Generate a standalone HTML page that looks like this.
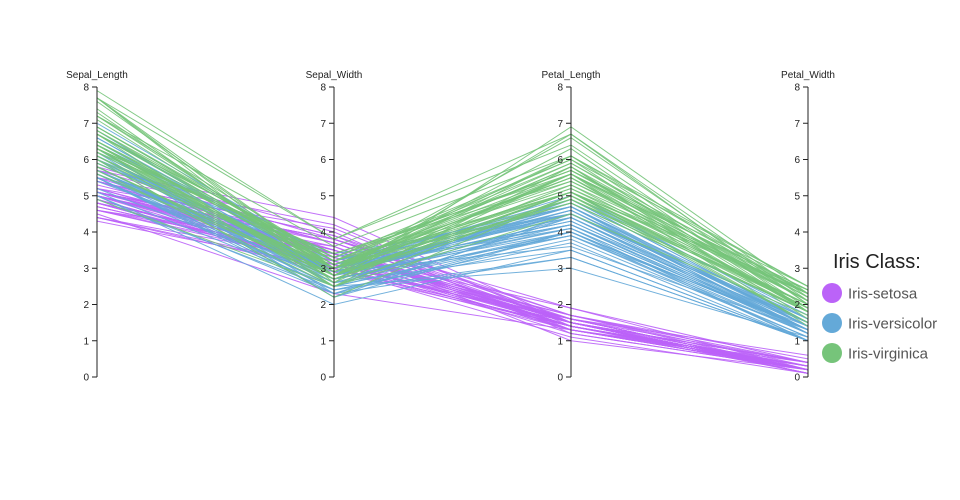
<!DOCTYPE html>
<html><head><meta charset="utf-8">
<style>
html,body{margin:0;padding:0;background:#fff;}
svg{display:block;font-family:"Liberation Sans","DejaVu Sans",sans-serif;}
</style></head>
<body>
<svg id="chart" width="960" height="500">
  <g id="lines"></g>
  <g id="axes"></g>
  <g id="legend">
    <text x="833" y="268" font-size="20" fill="#222">Iris Class:</text>
  </g>
</svg>
<script>
const dimensions = ["Sepal_Length","Sepal_Width","Petal_Length","Petal_Width"];
const classes = ["Iris-setosa","Iris-versicolor","Iris-virginica"];
const classColors = ["#bb63f8","#64a9d8","#76c47a"];
const tickValues = [0,1,2,3,4,5,6,7,8];
const setosa = [
[5.1,3.5,1.4,0.2],[4.9,3.0,1.4,0.2],[4.7,3.2,1.3,0.2],[4.6,3.1,1.5,0.2],[5.0,3.6,1.4,0.2],
[5.4,3.9,1.7,0.4],[4.6,3.4,1.4,0.3],[5.0,3.4,1.5,0.2],[4.4,2.9,1.4,0.2],[4.9,3.1,1.5,0.1],
[5.4,3.7,1.5,0.2],[4.8,3.4,1.6,0.2],[4.8,3.0,1.4,0.1],[4.3,3.0,1.1,0.1],[5.8,4.0,1.2,0.2],
[5.7,4.4,1.5,0.4],[5.4,3.9,1.3,0.4],[5.1,3.5,1.4,0.3],[5.7,3.8,1.7,0.3],[5.1,3.8,1.5,0.3],
[5.4,3.4,1.7,0.2],[5.1,3.7,1.5,0.4],[4.6,3.6,1.0,0.2],[5.1,3.3,1.7,0.5],[4.8,3.4,1.9,0.2],
[5.0,3.0,1.6,0.2],[5.0,3.4,1.6,0.4],[5.2,3.5,1.5,0.2],[5.2,3.4,1.4,0.2],[4.7,3.2,1.6,0.2],
[4.8,3.1,1.6,0.2],[5.4,3.4,1.5,0.4],[5.2,4.1,1.5,0.1],[5.5,4.2,1.4,0.2],[4.9,3.1,1.5,0.1],
[5.0,3.2,1.2,0.2],[5.5,3.5,1.3,0.2],[4.9,3.1,1.5,0.1],[4.4,3.0,1.3,0.2],[5.1,3.4,1.5,0.2],
[5.0,3.5,1.3,0.3],[4.5,2.3,1.3,0.3],[4.4,3.2,1.3,0.2],[5.0,3.5,1.6,0.6],[5.1,3.8,1.9,0.4],
[4.8,3.0,1.4,0.3],[5.1,3.8,1.6,0.2],[4.6,3.2,1.4,0.2],[5.3,3.7,1.5,0.2],[5.0,3.3,1.4,0.2]];
const versicolor = [
[7.0,3.2,4.7,1.4],[6.4,3.2,4.5,1.5],[6.9,3.1,4.9,1.5],[5.5,2.3,4.0,1.3],[6.5,2.8,4.6,1.5],
[5.7,2.8,4.5,1.3],[6.3,3.3,4.7,1.6],[4.9,2.4,3.3,1.0],[6.6,2.9,4.6,1.3],[5.2,2.7,3.9,1.4],
[5.0,2.0,3.5,1.0],[5.9,3.0,4.2,1.5],[6.0,2.2,4.0,1.0],[6.1,2.9,4.7,1.4],[5.6,2.9,3.6,1.3],
[6.7,3.1,4.4,1.4],[5.6,3.0,4.5,1.5],[5.8,2.7,4.1,1.0],[6.2,2.2,4.5,1.5],[5.6,2.5,3.9,1.1],
[5.9,3.2,4.8,1.8],[6.1,2.8,4.0,1.3],[6.3,2.5,4.9,1.5],[6.1,2.8,4.7,1.2],[6.4,2.9,4.3,1.3],
[6.6,3.0,4.4,1.4],[6.8,2.8,4.8,1.4],[6.7,3.0,5.0,1.7],[6.0,2.9,4.5,1.5],[5.7,2.6,3.5,1.0],
[5.5,2.4,3.8,1.1],[5.5,2.4,3.7,1.0],[5.8,2.7,3.9,1.2],[6.0,2.7,5.1,1.6],[5.4,3.0,4.5,1.5],
[6.0,3.4,4.5,1.6],[6.7,3.1,4.7,1.5],[6.3,2.3,4.4,1.3],[5.6,3.0,4.1,1.3],[5.5,2.5,4.0,1.3],
[5.5,2.6,4.4,1.2],[6.1,3.0,4.6,1.4],[5.8,2.6,4.0,1.2],[5.0,2.3,3.3,1.0],[5.6,2.7,4.2,1.3],
[5.7,3.0,4.2,1.2],[5.7,2.9,4.2,1.3],[6.2,2.9,4.3,1.3],[5.1,2.5,3.0,1.1],[5.7,2.8,4.1,1.3]];
const virginica = [
[6.3,3.3,6.0,2.5],[5.8,2.7,5.1,1.9],[7.1,3.0,5.9,2.1],[6.3,2.9,5.6,1.8],[6.5,3.0,5.8,2.2],
[7.6,3.0,6.6,2.1],[4.9,2.5,4.5,1.7],[7.3,2.9,6.3,1.8],[6.7,2.5,5.8,1.8],[7.2,3.6,6.1,2.5],
[6.5,3.2,5.1,2.0],[6.4,2.7,5.3,1.9],[6.8,3.0,5.5,2.1],[5.7,2.5,5.0,2.0],[5.8,2.8,5.1,2.4],
[6.4,3.2,5.3,2.3],[6.5,3.0,5.5,1.8],[7.7,3.8,6.7,2.2],[7.7,2.6,6.9,2.3],[6.0,2.2,5.0,1.5],
[6.9,3.2,5.7,2.3],[5.6,2.8,4.9,2.0],[7.7,2.8,6.7,2.0],[6.3,2.7,4.9,1.8],[6.7,3.3,5.7,2.1],
[7.2,3.2,6.0,1.8],[6.2,2.8,4.8,1.8],[6.1,3.0,4.9,1.8],[6.4,2.8,5.6,2.1],[7.2,3.0,5.8,1.6],
[7.4,2.8,6.1,1.9],[7.9,3.8,6.4,2.0],[6.4,2.8,5.6,2.2],[6.3,2.8,5.1,1.5],[6.1,2.6,5.6,1.4],
[7.7,3.0,6.1,2.3],[6.3,3.4,5.6,2.4],[6.4,3.1,5.5,1.8],[6.0,3.0,4.8,1.8],[6.9,3.1,5.4,2.1],
[6.7,3.1,5.6,2.4],[6.9,3.1,5.1,2.3],[5.8,2.7,5.1,1.9],[6.8,3.2,5.9,2.3],[6.7,3.3,5.7,2.5],
[6.7,3.0,5.2,2.3],[6.3,2.5,5.0,1.9],[6.5,3.0,5.2,2.0],[6.2,3.4,5.4,2.3],[5.9,3.0,5.1,1.8]];

const NS = "http://www.w3.org/2000/svg";
const axisX = i => 97 + i * 237;
const yScale = v => 377 - v * (290 / 8);
const seriesData = [setosa, versicolor, virginica];

const linesG = document.getElementById('lines');
seriesData.forEach((rows, ci) => {
  const g = document.createElementNS(NS, 'g');
  
  
  rows.forEach(r => {
    const p = document.createElementNS(NS, 'polyline');
    p.setAttribute('points', r.map((v, i) => axisX(i) + ',' + yScale(v).toFixed(2)).join(' '));
    p.setAttribute('fill', 'none');
    p.setAttribute('stroke', classColors[ci]);
    p.setAttribute('stroke-width', '1');
    p.setAttribute('stroke-opacity', '0.9');
    
    
    g.appendChild(p);
  });
  linesG.appendChild(g);
});

const axesG = document.getElementById('axes');
dimensions.forEach((d, i) => {
  const x = axisX(i);
  const g = document.createElementNS(NS, 'g');
  
  
  const ln = document.createElementNS(NS, 'line');
  ln.setAttribute('x1', x); ln.setAttribute('x2', x);
  ln.setAttribute('y1', yScale(8)); ln.setAttribute('y2', yScale(0));
  ln.setAttribute('stroke', '#222'); ln.setAttribute('stroke-width', '1');
  
  
  g.appendChild(ln);
  tickValues.forEach(t => {
    const y = yScale(t);
    const tk = document.createElementNS(NS, 'line');
    tk.setAttribute('x1', x - 5); tk.setAttribute('x2', x);
    tk.setAttribute('y1', y); tk.setAttribute('y2', y);
    tk.setAttribute('stroke', '#222');
    
    
    g.appendChild(tk);
    const tl = document.createElementNS(NS, 'text');
    tl.setAttribute('x', x - 8); tl.setAttribute('y', y + 3.5);
    tl.setAttribute('text-anchor', 'end');
    tl.setAttribute('font-size', '10'); tl.setAttribute('fill', '#222');
    tl.textContent = t;
    
    
    g.appendChild(tl);
  });
  const title = document.createElementNS(NS, 'text');
  title.setAttribute('x', x); title.setAttribute('y', 78);
  title.setAttribute('text-anchor', 'middle');
  title.setAttribute('font-size', '10'); title.setAttribute('fill', '#222');
  title.textContent = d;
  
  
  g.appendChild(title);
  axesG.appendChild(g);
});

const legG = document.getElementById('legend');
classes.forEach((c, i) => {
  const y = 293 + i * 30;
  const g = document.createElementNS(NS, 'g');
  
  
  const ci = document.createElementNS(NS, 'circle');
  ci.setAttribute('cx', 832); ci.setAttribute('cy', y); ci.setAttribute('r', 10);
  ci.setAttribute('fill', classColors[i]);
  
  
  g.appendChild(ci);
  const t = document.createElementNS(NS, 'text');
  t.setAttribute('x', 848); t.setAttribute('y', y + 5.5);
  t.setAttribute('font-size', '15'); t.setAttribute('fill', '#555');
  t.textContent = c;
  
  
  g.appendChild(t);
  legG.appendChild(g);
});
</script>
</body></html>
